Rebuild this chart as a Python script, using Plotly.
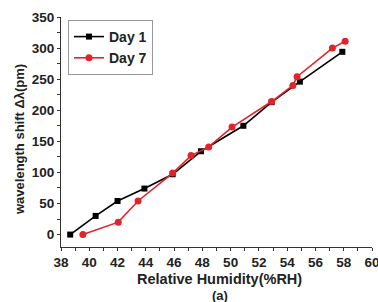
import plotly.graph_objects as go

day1_x = [38.65, 40.45, 42.0, 43.9, 45.9, 47.9, 50.9, 52.9, 54.9, 57.9]
day1_y = [0, 30, 54, 74, 97, 134, 175, 213, 246, 294]
day7_x = [39.55, 42.05, 43.45, 45.9, 47.2, 48.45, 50.1, 52.9, 54.4, 54.7, 57.2, 58.1]
day7_y = [0, 20, 54, 99, 127, 141, 173, 214, 240, 254, 300, 311]

x_ticks = list(range(38, 61, 2))
y_ticks = list(range(0, 351, 50))
x_title = "Relative Humidity(%RH)"
x_sub = "(a)"
y_title = "wavelength shift Δλ(pm)"

font_fam = "Liberation Sans, Arial, sans-serif"

fig = go.Figure()
fig.add_trace(go.Scatter(x=day1_x, y=day1_y, mode="lines+markers", name="<b>Day 1</b>",
                         line=dict(color="black", width=1.6),
                         marker=dict(symbol="square", size=6, color="black")))
fig.add_trace(go.Scatter(x=day7_x, y=day7_y, mode="lines+markers", name="<b>Day 7</b>",
                         line=dict(color="#e0242a", width=1.6),
                         marker=dict(symbol="circle", size=7, color="#e0242a")))

axis_common = dict(showgrid=False, zeroline=False, showline=True, linecolor="#333",
                   linewidth=1.2, ticks="outside", ticklen=3, tickcolor="#333",
                   automargin=False, ticklabeloverflow="allow",
                   tickfont=dict(size=13.5, family=font_fam, color="#222"))

fig.update_layout(
    width=378, height=302,
    margin=dict(l=61, r=6, t=17, b=55),
    paper_bgcolor="white", plot_bgcolor="white",
    font=dict(family=font_fam, color="#222", size=13),
    showlegend=True,
    legend=dict(x=0.0225, y=0.987, xanchor="left", yanchor="top",
                bordercolor="#999", borderwidth=1, bgcolor="white",
                font=dict(size=14, family=font_fam, color="#222"),
                tracegroupgap=0, itemwidth=30),
    xaxis=dict(range=[38, 60], tickvals=x_ticks, ticktext=[f"<b>{v}</b>" for v in x_ticks],
               minor=dict(dtick=1, ticks="outside", ticklen=2.5, tickcolor="#333"),
               **axis_common),
    yaxis=dict(range=[-20, 350], tickvals=y_ticks, ticktext=[f"<b>{v}</b>" for v in y_ticks],
               minor=dict(dtick=25, ticks="outside", ticklen=2.5, tickcolor="#333"),
               **axis_common),
)

fig.add_annotation(text=f"<b>{x_title}</b>", xref="paper", yref="paper", x=0.51, y=0,
                   yshift=-32, xanchor="center", yanchor="middle", showarrow=False,
                   font=dict(size=14.5, family=font_fam, color="#222"))
fig.add_annotation(text=f"<b>{x_sub}</b>", xref="paper", yref="paper", x=0.51, y=0,
                   yshift=-48, xanchor="center", yanchor="middle", showarrow=False,
                   font=dict(size=13, family=font_fam, color="#222"))
fig.add_annotation(text=f"<b>{y_title}</b>", xref="paper", yref="paper", x=0, y=0.5,
                   xshift=-42, yshift=-8, xanchor="center", yanchor="middle", showarrow=False,
                   textangle=-90, font=dict(size=13, family=font_fam, color="#222"))

fig.write_html("out.html", config={"displayModeBar": False},
               post_script="document.body.style.margin='0';document.body.style.overflow='hidden';")
